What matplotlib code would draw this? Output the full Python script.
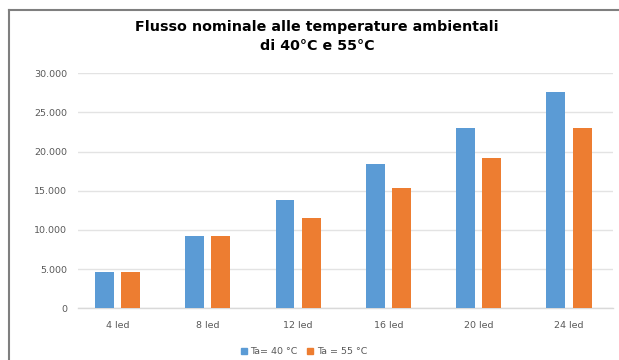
import matplotlib
matplotlib.use("Agg")
import matplotlib.pyplot as plt
from matplotlib.lines import Line2D
import numpy as np

categories = ["4 led", "8 led", "12 led", "16 led", "20 led", "24 led"]
series_names = ["Ta= 40 °C", "Ta = 55 °C"]
flux_40 = [4600, 9200, 13800, 18400, 23000, 27600]
flux_55 = [4600, 9200, 11500, 15300, 19200, 23000]
ytick_values = [0, 5000, 10000, 15000, 20000, 25000, 30000]
ytick_labels = ["0", "5.000", "10.000", "15.000", "20.000", "25.000", "30.000"]
title = "Flusso nominale alle temperature ambientali\ndi 40°C e 55°C"

W, H = 619, 360
fig = plt.figure(figsize=(W / 100, H / 100), dpi=100)
fig.patch.set_facecolor("white")

# axes placed in pixel coordinates
left_px, right_px = 78, 613
top_px, bottom_px = 73.3, 308.3
ax = fig.add_axes([left_px / W, 1 - bottom_px / H,
                   (right_px - left_px) / W, (bottom_px - top_px) / H])

x = np.arange(len(categories))
bw = 0.21
off = 0.145
blue = "#5B9BD5"
orange = "#ED7D31"
ax.bar(x - off, flux_40, width=bw, color=blue, label=series_names[0], zorder=3)
ax.bar(x + off, flux_55, width=bw, color=orange, label=series_names[1], zorder=3)

ax.set_xlim(-0.437, 5.487)
ax.set_ylim(0, 30000)
ax.set_yticks(ytick_values)
ax.set_yticklabels(ytick_labels)
ax.set_xticks(x)
ax.set_xticklabels(categories)

for s in ["top", "right", "left"]:
    ax.spines[s].set_visible(False)
ax.spines["bottom"].set_color("#d9d9d9")
ax.spines["bottom"].set_linewidth(1)
ax.grid(axis="y", color="#e3e3e3", linewidth=1, zorder=0)
ax.tick_params(axis="both", length=0, labelsize=6.8, colors="#595959")
ax.tick_params(axis="y", pad=8)
ax.tick_params(axis="x", pad=9)

fig.text(317 / W, 1 - 36.5 / H, title, ha="center", va="center",
         fontsize=10.3, fontweight="bold", color="black", linespacing=1.42)

handles = [plt.Rectangle((0, 0), 1, 1, color=blue),
           plt.Rectangle((0, 0), 1, 1, color=orange)]
fig.legend(handles, series_names, loc="center", bbox_to_anchor=(304 / W, 1 - 352 / H),
           ncol=2, frameon=False, fontsize=6.8, labelcolor="#595959",
           handlelength=0.6, handleheight=0.6, handletextpad=0.4, columnspacing=1.0)

# chart border (top and left visible in the crop)
fig.add_artist(Line2D([9 / W, 9 / W], [0, 1 - 10 / H], transform=fig.transFigure,
                      color="#7f7f7f", linewidth=1.5))
fig.add_artist(Line2D([9 / W, 1], [1 - 10 / H, 1 - 10 / H], transform=fig.transFigure,
                      color="#7f7f7f", linewidth=1.5))

fig.savefig("out.png", dpi=100)
